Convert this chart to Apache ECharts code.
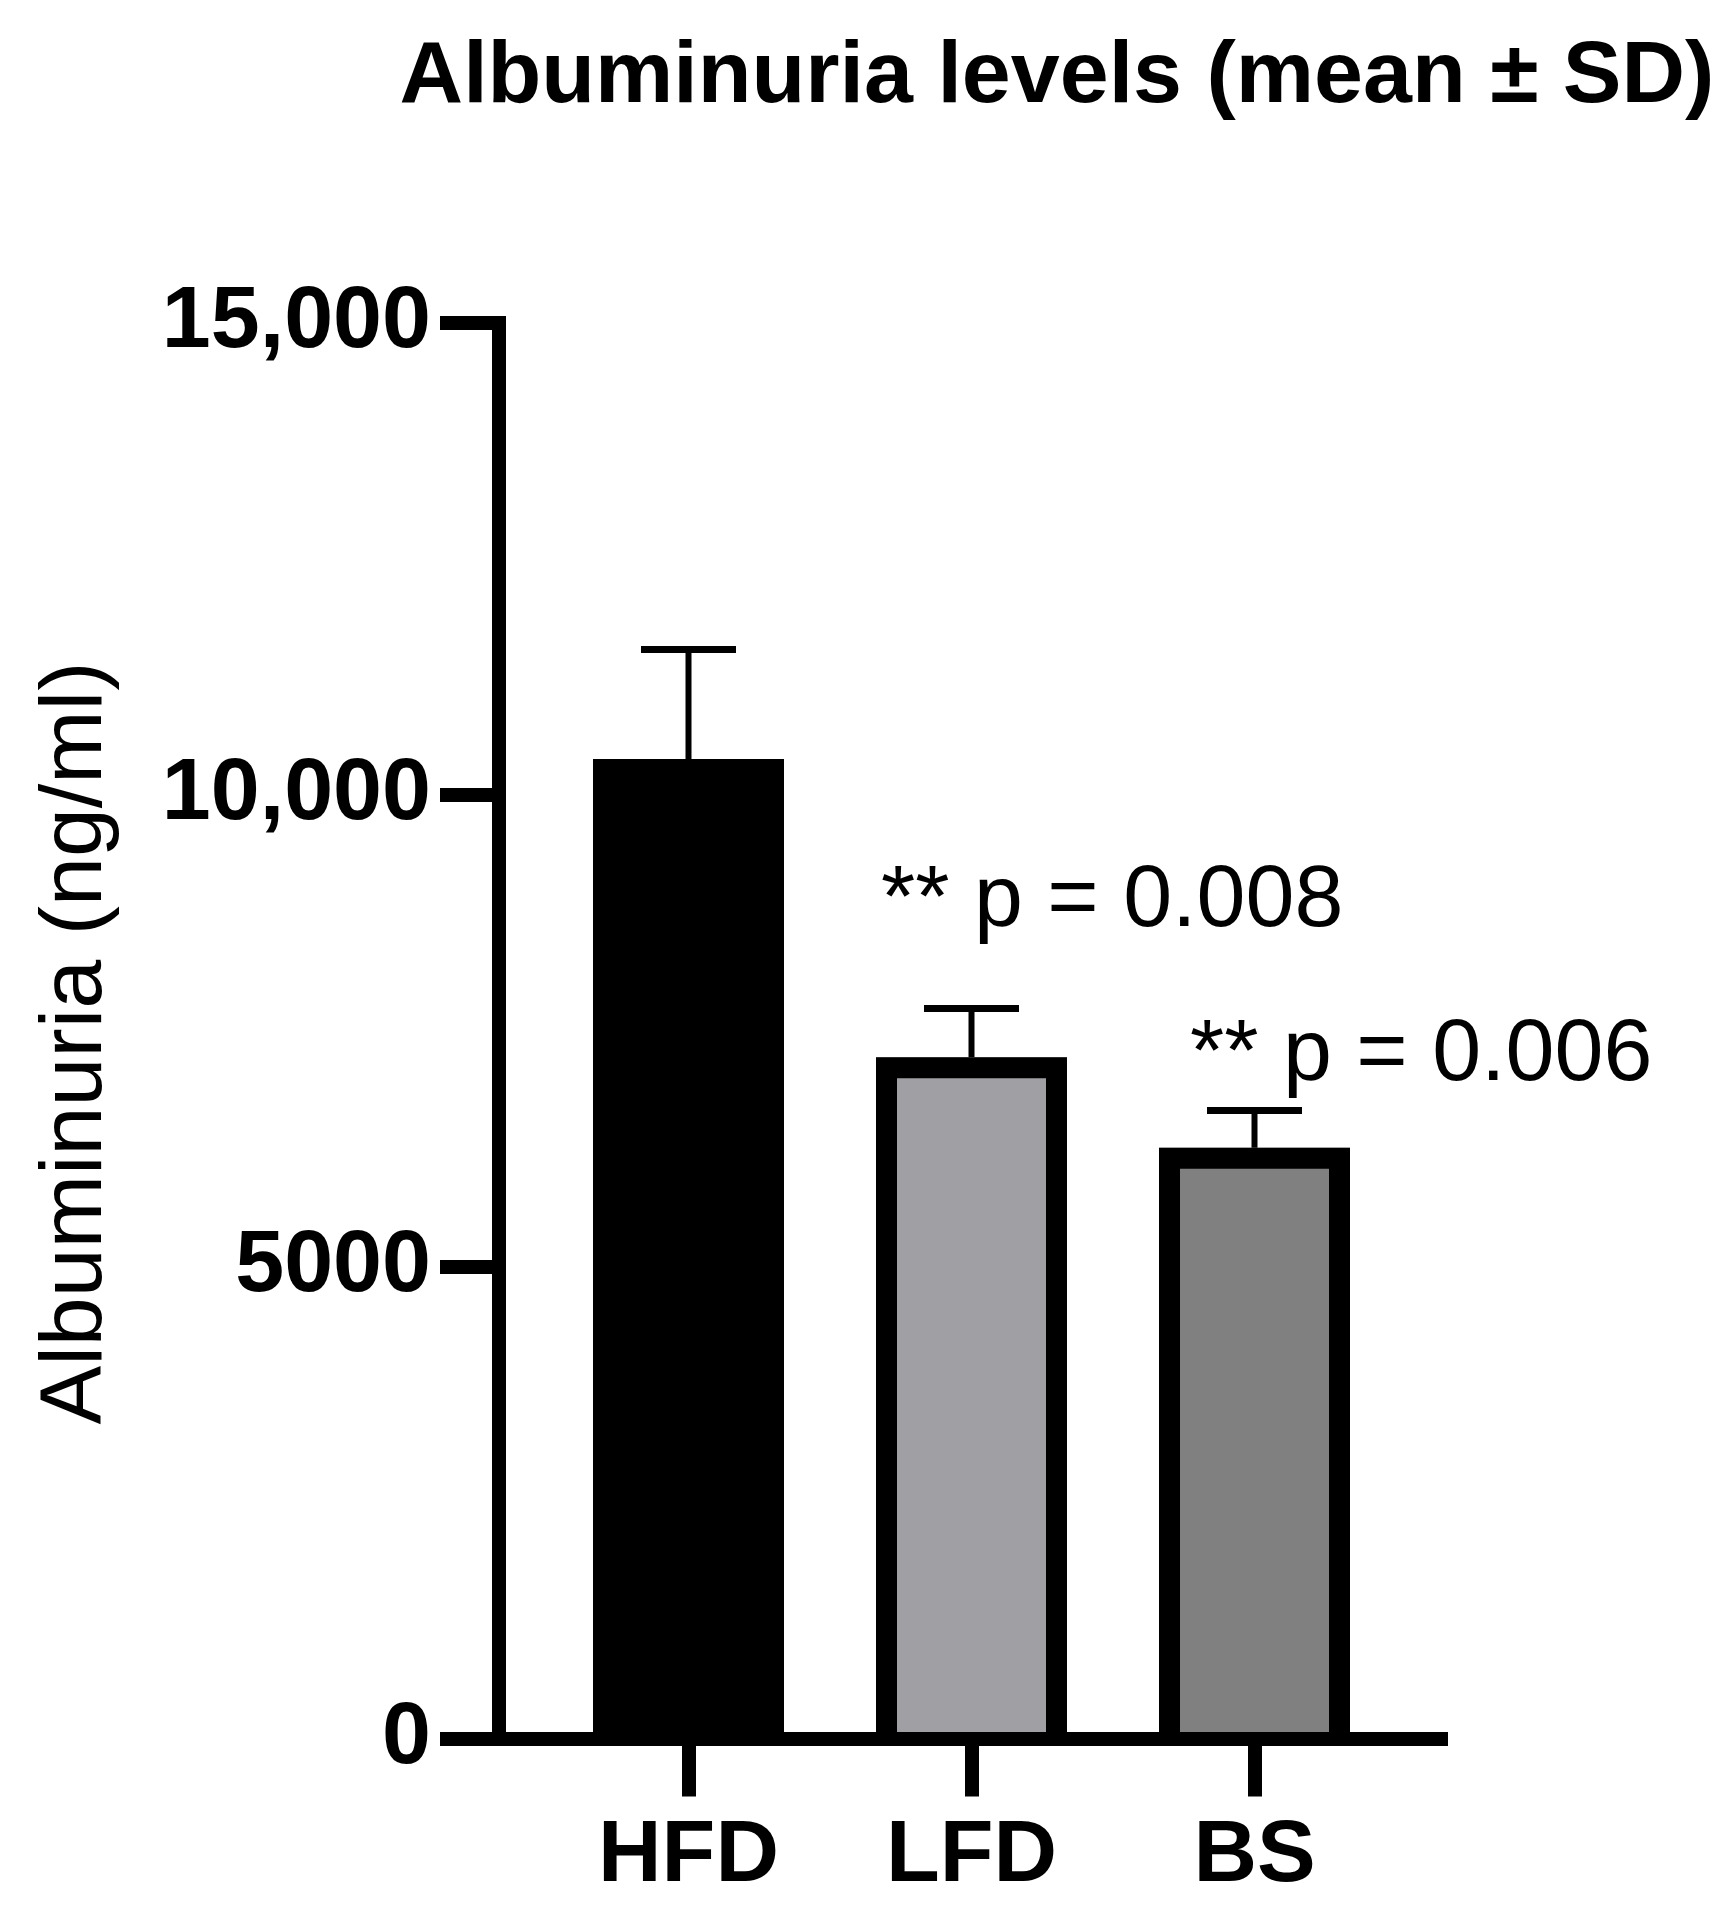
<!DOCTYPE html>
<html>
<head>
<meta charset="utf-8">
<script src="https://cdn.jsdelivr.net/npm/echarts@6/dist/echarts.min.js"></script>
<style>
  html, body { margin: 0; padding: 0; background: #fff; }
  #chart { width: 1731px; height: 1920px; }
</style>
</head>
<body>
<div id="chart"></div>
<script>
// groups and values
const categories = ['HFD', 'LFD', 'BS']
const means = [10380, 7220, 6260]
const sds = [1160, 515, 395]
const fills = ['#000000', '#A0A0A4', '#808080']
const yTicks = [0, 5000, 10000, 15000]
const yTickLabels = ['0', '5000', '10,000', '15,000']
const pLabels = ['', '** p = 0.008', '** p = 0.006']

const font = "'Liberation Sans', Arial, sans-serif"
const barW = 191
const borderW = 21

const chart = echarts.init(document.getElementById('chart'))

const options = {
  animation: false,
  backgroundColor: '#fff',
  title: {
    text: 'Albuminuria levels (mean ± SD)',
    left: 1052,
    top: 29,
    textAlign: 'center',
    textStyle: {
      fontFamily: font,
      fontSize: 88,
      fontWeight: 'bold',
      color: '#000'
    }
  },
  grid: {
    left: 499,
    top: 323,
    right: 290,
    bottom: 181.5
  },
  xAxis: {
    type: 'value',
    z: 5,
    min: -0.6696,
    max: 2.659,
    splitLine: { show: false },
    axisLine: {
      show: true,
      onZero: false,
      lineStyle: { color: '#000', width: 14, cap: 'square' }
    },
    axisTick: {
      show: true,
      customValues: categories.map((c, i) => i),
      length: 58,
      lineStyle: { color: '#000', width: 14 }
    },
    axisLabel: {
      customValues: categories.map((c, i) => i),
      formatter: v => categories[Math.round(v)],
      margin: 74,
      fontFamily: font,
      fontSize: 88,
      fontWeight: 'bold',
      color: '#000'
    }
  },
  yAxis: {
    type: 'value',
    z: 5,
    min: 0,
    max: 15000,
    interval: 5000,
    splitLine: { show: false },
    axisLine: {
      show: true,
      onZero: false,
      lineStyle: { color: '#000', width: 14, cap: 'square' }
    },
    axisTick: {
      show: true,
      length: 59,
      lineStyle: { color: '#000', width: 14 }
    },
    axisLabel: {
      margin: 68,
      formatter: v => yTickLabels[yTicks.indexOf(v)],
      fontFamily: font,
      fontSize: 88,
      fontWeight: 'bold',
      color: '#000'
    }
  },
  graphic: [
    {
      type: 'text',
      x: 77,
      y: 1043,
      rotation: Math.PI / 2,
      style: {
        text: 'Albuminuria (ng/ml)',
        font: '88px ' + font,
        fill: '#000',
        align: 'center',
        verticalAlign: 'middle'
      }
    },
    {
      type: 'text',
      x: 881,
      y: 902,
      style: {
        text: pLabels[1],
        font: '88px ' + font,
        fill: '#000',
        align: 'left',
        verticalAlign: 'middle'
      }
    },
    {
      type: 'text',
      x: 1190,
      y: 1056,
      style: {
        text: pLabels[2],
        font: '88px ' + font,
        fill: '#000',
        align: 'left',
        verticalAlign: 'middle'
      }
    }
  ],
  series: [
    {
      name: 'Albuminuria',
      type: 'bar',
      barWidth: barW,
      data: categories.map((c, i) => ({
        value: [i, means[i]],
        itemStyle: { color: fills[i] }
      }))
    },
    {
      // open outline (left, top, right) like the Prism bars
      name: 'outline',
      type: 'custom',
      z: 3,
      data: categories.map((c, i) => [i, means[i]]),
      renderItem(params, api) {
        const base = api.coord([api.value(0), 0])
        const top = api.coord([api.value(0), api.value(1)])
        const l = base[0] - barW / 2 + borderW / 2
        const r = base[0] + barW / 2 - borderW / 2
        const t = top[1] + borderW / 2
        return {
          type: 'polyline',
          shape: { points: [[l, base[1]], [l, t], [r, t], [r, base[1]]] },
          style: { stroke: '#000', lineWidth: borderW, fill: null, lineJoin: 'miter' }
        }
      }
    },
    {
      name: 'SD',
      type: 'custom',
      z: 4,
      data: categories.map((c, i) => [i, means[i], sds[i]]),
      renderItem(params, api) {
        const base = api.coord([api.value(0), api.value(1)])
        const top = api.coord([api.value(0), api.value(1) + api.value(2)])
        return {
          type: 'group',
          children: [
            {
              type: 'line',
              shape: { x1: base[0], y1: base[1], x2: top[0], y2: top[1] },
              style: { stroke: '#000', lineWidth: 6 }
            },
            {
              type: 'line',
              shape: { x1: top[0] - 47.5, y1: top[1], x2: top[0] + 47.5, y2: top[1] },
              style: { stroke: '#000', lineWidth: 7 }
            }
          ]
        }
      }
    }
  ]
}

chart.setOption(options)
</script>
</body>
</html>
